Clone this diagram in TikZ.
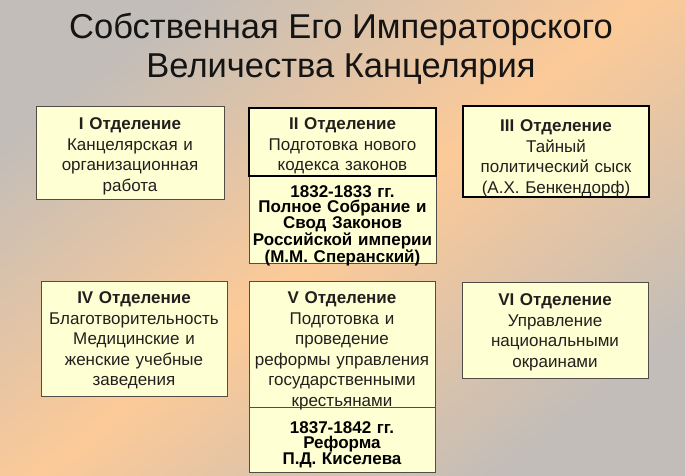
\documentclass[tikz,border=0pt]{standalone}
\usepackage{fontspec}
\setmainfont{Liberation Sans}
\definecolor{bggray}{RGB}{194,189,184}
\definecolor{bgorange}{RGB}{252,202,152}
\definecolor{boxfill}{RGB}{255,255,212}
\definecolor{boxline}{RGB}{80,76,70}
\definecolor{txt}{RGB}{34,32,30}
\tikzset{
  dept/.style={draw=boxline, line width=0.9pt, fill=boxfill, inner sep=0pt},
  heavy/.style={dept, draw=black, line width=#1},
  body/.style={inner sep=0pt, align=center, text=txt, text width=184pt,
    font=\fontsize{17}{20.5}\selectfont},
  sub/.style={inner sep=0pt, align=center, text=black, text width=186pt,
    font=\fontsize{17}{15.5}\selectfont\bfseries},
  titlefont/.style={font=\fontsize{34.5}{39}\selectfont, text=black!92}
}
\begin{document}
\begin{tikzpicture}[x=1pt,y=-1pt]
\useasboundingbox (0,0) rectangle (685,475);
\shade[top color=bggray, bottom color=bggray, middle color=bgorange, shading angle=38] (0,0) rectangle (685,475);
\node[titlefont, align=center] (title) at (341,48.5) {Собственная Его Императорского\\Величества Канцелярия};
% I
\node[dept, minimum width=188pt, minimum height=93pt] (d1) at (130,152.5) {};
\node[body] (t1) at (130,156.5)
  {\textbf{I Отделение}\\Канцелярская и\\организационная\\работа};
% II
\node[dept, minimum width=187pt, minimum height=87pt, anchor=north] (d2b) at (342.5,176) {};
\node[heavy=2pt, minimum width=187pt, minimum height=68pt] (d2) at (342.5,142) {};
\node[body] (t2) at (342.5,146)
  {\textbf{II Отделение}\\Подготовка нового\\кодекса законов};
\node[sub] (t2b) at (342.5,225.5)
  {1832-1833 гг.\\Полное Собрание и\\Свод Законов\\Российской империи\\(М.М. Сперанский)};
% III
\node[heavy=2.6pt, minimum width=186pt, minimum height=91pt] (d3) at (556,151.5) {};
\node[body] (t3) at (556,158.5)
  {\textbf{III Отделение}\\Тайный\\политический сыск\\(А.Х. Бенкендорф)};
% IV
\node[dept, minimum width=186pt, minimum height=115pt] (d4) at (134,338.5) {};
\node[body] (t4) at (134,340.5)
  {\textbf{IV Отделение}\\Благотворительность\\Медицинские и\\женские учебные\\заведения};
% V
\node[dept, minimum width=186pt, minimum height=126pt] (d5) at (342,344) {};
\node[dept, minimum width=186pt, minimum height=65pt, anchor=north] (d5b) at (d5.south) {};
\node[body] (t5) at (342,351)
  {\textbf{V Отделение}\\Подготовка и\\проведение\\реформы управления\\государственными\\крестьянами};
\node[sub] (t5b) at (342,444.5)
  {1837-1842 гг.\\Реформа\\П.Д. Киселева};
% VI
\node[dept, minimum width=186pt, minimum height=96pt] (d6) at (555,330) {};
\node[body] (t6) at (555,332.5)
  {\textbf{VI Отделение}\\Управление\\национальными\\окраинами};
\end{tikzpicture}
\end{document}
